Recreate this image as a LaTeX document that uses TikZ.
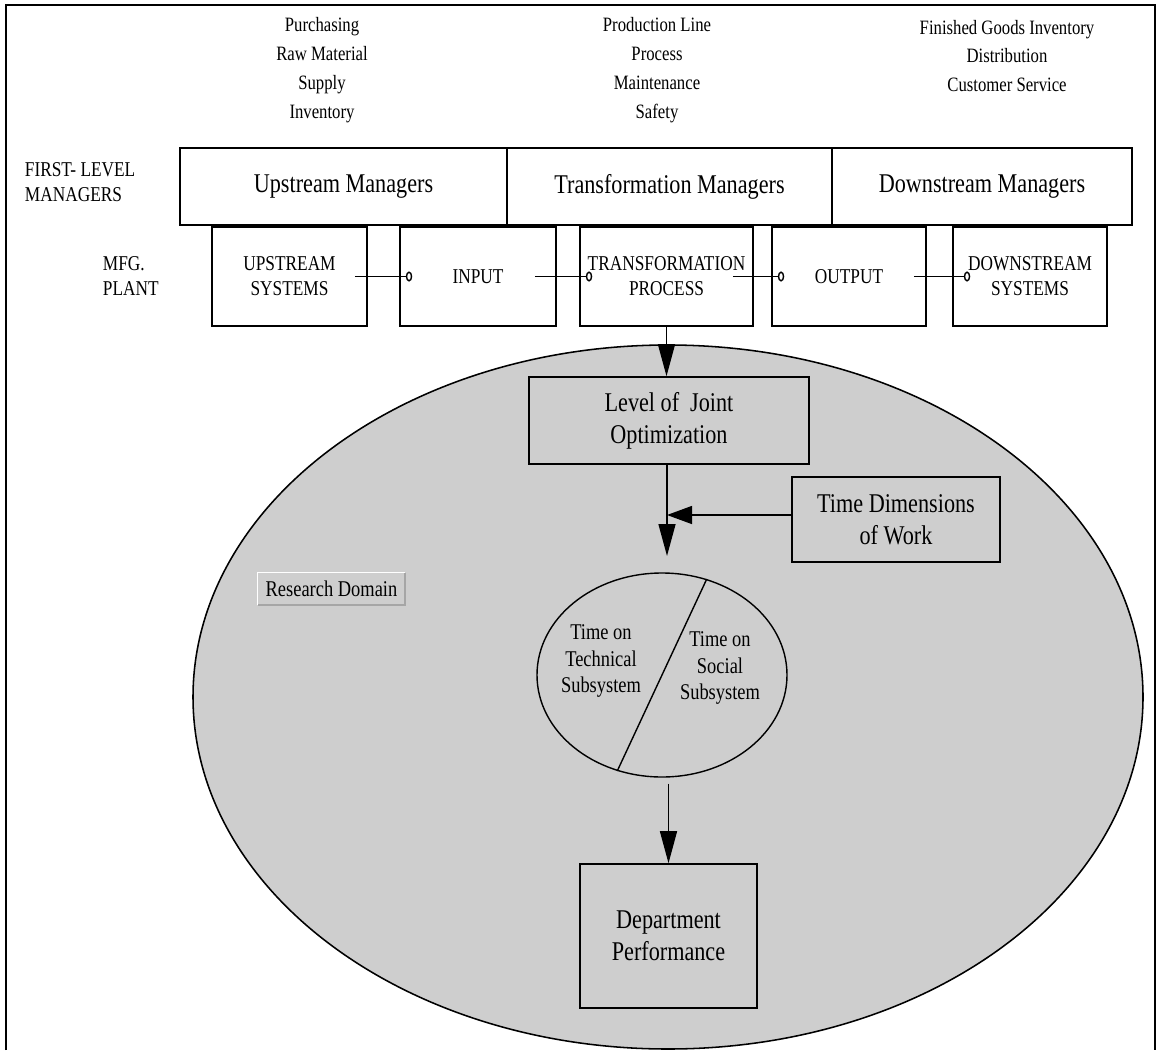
\documentclass[tikz,border=0pt]{standalone}
\usepackage{fontspec}
\setmainfont{Liberation Serif}[FakeStretch=0.82]
\usetikzlibrary{arrows.meta,shapes.geometric}

\definecolor{domgray}{RGB}{206,206,206}
\newcommand{\bigtxt}{\fontsize{19.25}{22.8}\selectfont}
\newcommand{\smalltxt}{\fontsize{15}{17.8}\selectfont}
\newcommand{\toptxt}{\fontsize{14.5}{20.6}\selectfont}
\newcommand{\circtxt}{\fontsize{16}{19}\selectfont}

\tikzset{
  mgrbox/.style={draw, line width=1.1pt, minimum height=19.25mm, font=\bigtxt},
  sysbox/.style={draw, line width=1.1pt, minimum height=24.75mm, align=center, font=\smalltxt},
  grbox/.style={draw, line width=1.1pt, fill=domgray, align=center, font=\bigtxt},
  toplbl/.style={align=center, font=\toptxt},
  sidelbl/.style={align=left, font=\smalltxt},
  link/.style={line width=1pt, -{Circle[open, length=1.6mm, width=2.5mm, line width=1pt]}},
  flow/.style={line width=1pt, -{Triangle[length=8mm, width=4.25mm]}},
}

\begin{document}
\begin{tikzpicture}[x=0.25mm, y=-0.25mm]
    \useasboundingbox (0,0) rectangle (1160,1050);

    % frame, open at the bottom
    \draw[line width=2pt] (6,1050) -- (6,5) -- (1155,5) -- (1155,1050);

    % research domain
    \filldraw[fill=domgray, line width=1.1pt] (668,697) ellipse (475 and 352);

    % functions above the managers
    \node[toplbl] (fnup) at (322,70) {Purchasing\\Raw Material\\Supply\\Inventory};
    \node[toplbl] (fntr) at (657,70) {Production Line\\Process\\Maintenance\\Safety};
    \node[toplbl] (fndn) at (1007,56) {Finished Goods Inventory\\Distribution\\Customer Service};

    % first-level managers
    \node[sidelbl, anchor=west] (mgrlbl) at (20,182) {FIRST- LEVEL\\MANAGERS};
    \node[mgrbox, minimum width=81.75mm] (mgrup) at (343.5,186.5) {Upstream Managers};
    \node[mgrbox, minimum width=81.25mm] (mgrtr) at (669.5,186.5) {Transformation Managers};
    \node[mgrbox, minimum width=75mm] (mgrdn) at (982,186.5) {Downstream Managers};

    % manufacturing plant
    \node[sidelbl, anchor=west] (plantlbl) at (98,276) {MFG.\\PLANT};
    \node[sysbox, minimum width=38.75mm] (up) at (289.5,276.5) {UPSTREAM\\SYSTEMS};
    \node[sysbox, minimum width=39mm] (in) at (478,276.5) {INPUT};
    \node[sysbox, minimum width=43.25mm] (tr) at (666.5,276.5) {TRANSFORMATION\\PROCESS};
    \node[sysbox, minimum width=38.5mm] (out) at (849,276.5) {OUTPUT};
    \node[sysbox, minimum width=38.5mm] (dn) at (1030,276.5) {DOWNSTREAM\\SYSTEMS};

    \draw[link] ([xshift=-3.25mm]up.east) -- ([xshift=3.25mm]in.west);
    \draw[link] ([xshift=-5.5mm]in.east) -- ([xshift=3.25mm]tr.west);
    \draw[link] ([xshift=-5.25mm]tr.east) -- ([xshift=3.25mm]out.west);
    \draw[link] ([xshift=-3.25mm]out.east) -- ([xshift=4.5mm]dn.west);

    % inside the domain
    \node[grbox, minimum width=70mm, minimum height=21.75mm] (lvl) at (669,420.5) {Level of\ \ Joint\\Optimization};
    \node[grbox, minimum width=52mm, minimum height=21.25mm] (tdw) at (896,519.5) {Time Dimensions\\of Work};
    \node[fill=domgray, font=\circtxt, minimum width=36.75mm, minimum height=8mm] (rd) at (331.5,589) {Research Domain};
    \draw[white, line width=1pt] (rd.south west) -- (rd.north west) -- (rd.north east);
    \draw[gray!70, line width=1.2pt] (rd.north east) -- (rd.south east) -- (rd.south west);
    \node[draw, ellipse, line width=1pt, minimum width=62.5mm, minimum height=51mm, inner sep=0pt] (tc) at (662,675) {};
    \node[grbox, minimum width=44.25mm, minimum height=36mm] (dept) at (668.5,936) {Department\\Performance};

    \draw[line width=1pt] (tc.65) -- (tc.245);
    \node[align=center, font=\circtxt] (tech) at (601,661) {Time on\\Technical\\Subsystem};
    \node[align=center, font=\circtxt] (soc) at (720,668) {Time on\\Social\\Subsystem};

    \coordinate (jn) at (667,515);
    \coordinate (jntip) at (667,556);
    \draw[flow] (tr.south) -- (tr.south |- lvl.north);
    \draw[flow] (jn |- lvl.south) -- (jntip);
    \draw[line width=1pt, -{Triangle[length=6.25mm, width=4.5mm]}] (tdw.west |- jn) -- (jn);
    \draw[flow] ([yshift=-1.5mm]tc.south -| dept.north) -- (dept.north);
\end{tikzpicture}
\end{document}
